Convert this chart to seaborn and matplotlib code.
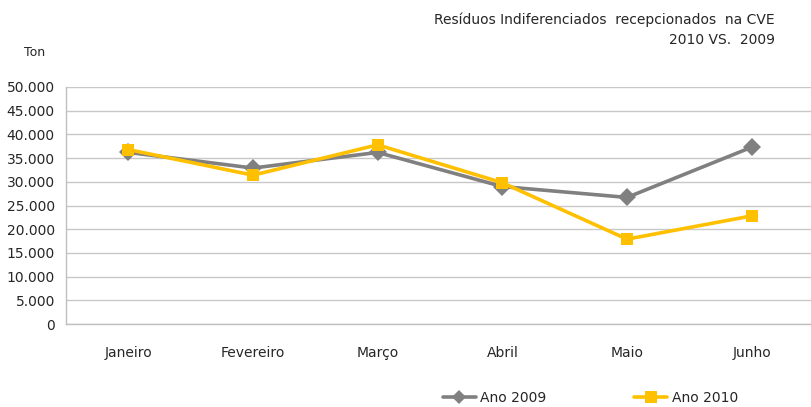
import numpy as np
import pandas as pd
import matplotlib
matplotlib.use("Agg")
import matplotlib.pyplot as plt
from matplotlib.ticker import FuncFormatter, FixedLocator
import seaborn as sns

# data (tonnes)
meses = ["Janeiro", "Fevereiro", "Março", "Abril", "Maio", "Junho"]
ano_2009 = [36200, 32900, 36200, 29000, 26700, 37300]
ano_2010 = [36800, 31400, 37800, 29800, 17900, 22800]

df = pd.DataFrame({
    "Mes": meses * 2,
    "Ton": ano_2009 + ano_2010,
    "Serie": ["Ano 2009"] * 6 + ["Ano 2010"] * 6,
})
df["x"] = df["Mes"].map({m: i for i, m in enumerate(meses)})

sns.set_theme(style="white")
plt.rcParams["font.family"] = ["DejaVu Sans"]

fig = plt.figure(figsize=(8.12, 4.07), dpi=100)
ax = fig.add_axes([66 / 812, 1 - 324 / 407, 748 / 812, 237 / 407])

cores = {"Ano 2009": "#808080", "Ano 2010": "#FFC000"}
ax = sns.lineplot(data=df, x="x", y="Ton", hue="Serie", style="Serie",
                  markers={"Ano 2009": "D", "Ano 2010": "s"}, dashes=False,
                  palette=cores, linewidth=2.6, markersize=9, markeredgewidth=0,
                  ax=ax, legend=False)

ax.set_xlim(-0.5, 5.5)
ax.set_ylim(0, 50000)
ax.set_yticks(np.arange(0, 50001, 5000))
ax.yaxis.set_major_formatter(FuncFormatter(lambda v, p: f"{int(v):,}".replace(",", ".")))
ax.set_xticks(range(6))
ax.set_xticklabels(meses)
ax.xaxis.set_minor_locator(FixedLocator(np.arange(-0.5, 5.6, 1)))
ax.tick_params(axis="x", which="major", length=0, pad=16, labelsize=10)
ax.tick_params(axis="x", which="minor", length=5, color="#bfbfbf", width=1)
ax.tick_params(axis="y", length=5, color="#bfbfbf", width=1, labelsize=10, pad=3)
ax.yaxis.grid(True, color="#c8c8c8", linewidth=1)
for s in ["top", "right"]:
    ax.spines[s].set_visible(False)
for s in ["left", "bottom"]:
    ax.spines[s].set_color("#bfbfbf")
    ax.spines[s].set_linewidth(1)
ax.set_xlabel("")
ax.set_ylabel("")

fig.text(775 / 812, 1 - 20 / 407, "Resíduos Indiferenciados  recepcionados  na CVE",
         ha="right", va="center", fontsize=10)
fig.text(775 / 812, 1 - 40 / 407, "2010 VS.  2009", ha="right", va="center", fontsize=10)
fig.text(35 / 812, 1 - 52 / 407, "Ton", ha="center", va="center", fontsize=9)

# legend at the bottom
handles = [plt.Line2D([], [], color=cores["Ano 2009"], marker="D", lw=2.6, ms=7, mew=0),
           plt.Line2D([], [], color=cores["Ano 2010"], marker="s", lw=2.6, ms=8, mew=0)]
fig.legend(handles, ["Ano 2009", "Ano 2010"], loc="center", bbox_to_anchor=(0.727, 1 - 398 / 407),
           ncol=2, frameon=False, fontsize=10, handlelength=2.4, columnspacing=6.3,
           handletextpad=0.3, borderpad=0)

fig.savefig("out.png", dpi=100)
